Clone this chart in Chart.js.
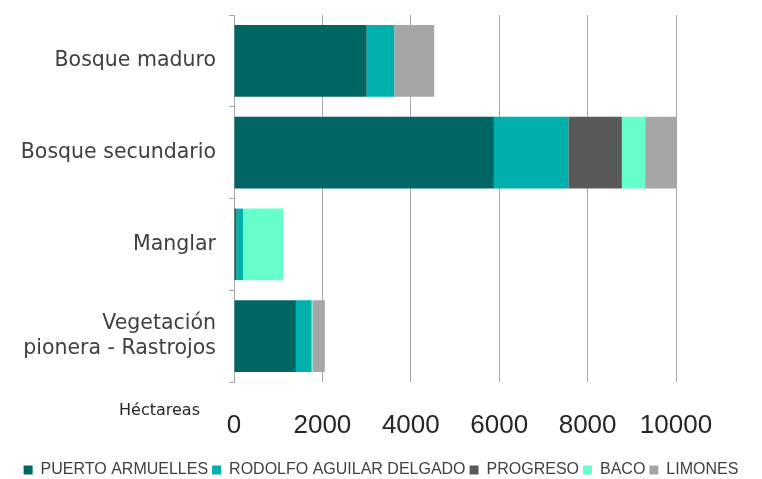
<!DOCTYPE html>
<html>
<head>
<meta charset="utf-8">
<script src="https://cdn.jsdelivr.net/npm/chart.js@4"></script>
<style>
  html, body { margin: 0; padding: 0; background: #fff; }
  #ctx { display: block; }
</style>
</head>
<body>
<canvas id="ctx" width="762" height="479"></canvas>
<script>
// categories (bars, top to bottom)
const categories = ['Bosque maduro', 'Bosque secundario', 'Manglar', ['Vegetación', 'pionera - Rastrojos']];

// hectares per district
const puertoArmuelles = [3000, 5880, 55, 1400];
const rodolfoAguilar = [625, 1685, 150, 355];
const progreso = [0, 1210, 0, 0];
const baco = [0, 527, 905, 20];
const limones = [905, 698, 0, 280];

const seriesNames = ['PUERTO ARMUELLES', 'RODOLFO AGUILAR DELGADO', 'PROGRESO', 'BACO', 'LIMONES'];
const seriesColors = ['#006664', '#00B0AD', '#595959', '#66FFCC', '#A6A6A6'];
const seriesValues = [puertoArmuelles, rodolfoAguilar, progreso, baco, limones];

const xTicks = [0, 2000, 4000, 6000, 8000, 10000];

// "Héctareas" caption left of the x tick labels
const unitLabel = {
  id: 'unitLabel',
  afterDraw(chart) {
    const c = chart.ctx;
    c.save();
    c.font = '16px "DejaVu Sans"';
    c.fillStyle = '#262626';
    c.textAlign = 'right';
    c.textBaseline = 'middle';
    c.fillText('Héctareas', chart.chartArea.left - 34, chart.chartArea.bottom + 29);
    c.restore();
  }
};

const datasets = seriesNames.map((name, i) => ({
  label: name,
  data: seriesValues[i],
  backgroundColor: seriesColors[i],
  borderWidth: 0,
  categoryPercentage: 0.78,
  barPercentage: 1
}));

new Chart(document.getElementById('ctx'), {
  type: 'bar',
  data: { labels: categories, datasets: datasets },
  options: {
    indexAxis: 'y',
    responsive: false,
    animation: false,
    layout: { padding: { top: 15, right: 0, bottom: -9, left: 0 } },
    scales: {
      x: {
        stacked: true,
        min: 0,
        max: 10000,
        afterBuildTicks: (scale) => { scale.ticks = xTicks.map(v => ({ value: v })); },
        afterFit: (scale) => { scale.height = 76; },
        grid: { color: '#a6a6a6', lineWidth: 1, drawTicks: false },
        border: { display: false },
        ticks: {
          padding: 28,
          color: '#262626',
          callback: (v) => String(v),
          font: { family: '"Liberation Sans Narrow", "Liberation Sans", sans-serif', size: 26 }
        }
      },
      y: {
        stacked: true,
        afterFit: (scale) => {
          scale.width = 234;
          scale.paddingTop = 0;
          scale.paddingBottom = 0;
        },
        grid: { drawOnChartArea: false, drawTicks: true, tickLength: 5, offset: true, color: '#a6a6a6' },
        border: { display: true, color: '#a6a6a6' },
        ticks: {
          padding: 13,
          color: '#404040',
          font: { family: '"DejaVu Sans", sans-serif', size: 20.5 }
        }
      },
      // empty right axis that only reserves the right margin
      yRight: {
        type: 'category',
        position: 'right',
        afterFit: (scale) => {
          scale.width = 86;
          scale.paddingTop = 0;
          scale.paddingBottom = 0;
        },
        grid: { display: false },
        border: { display: false },
        ticks: { display: false }
      }
    },
    plugins: {
      legend: {
        position: 'bottom',
        labels: {
          boxWidth: 9,
          boxHeight: 9,
          padding: 4,
          color: '#404040',
          font: { family: '"Liberation Sans Narrow", "Liberation Sans", sans-serif', size: 16 }
        }
      },
      tooltip: { enabled: false }
    }
  },
  plugins: [unitLabel]
});
</script>
</body>
</html>
